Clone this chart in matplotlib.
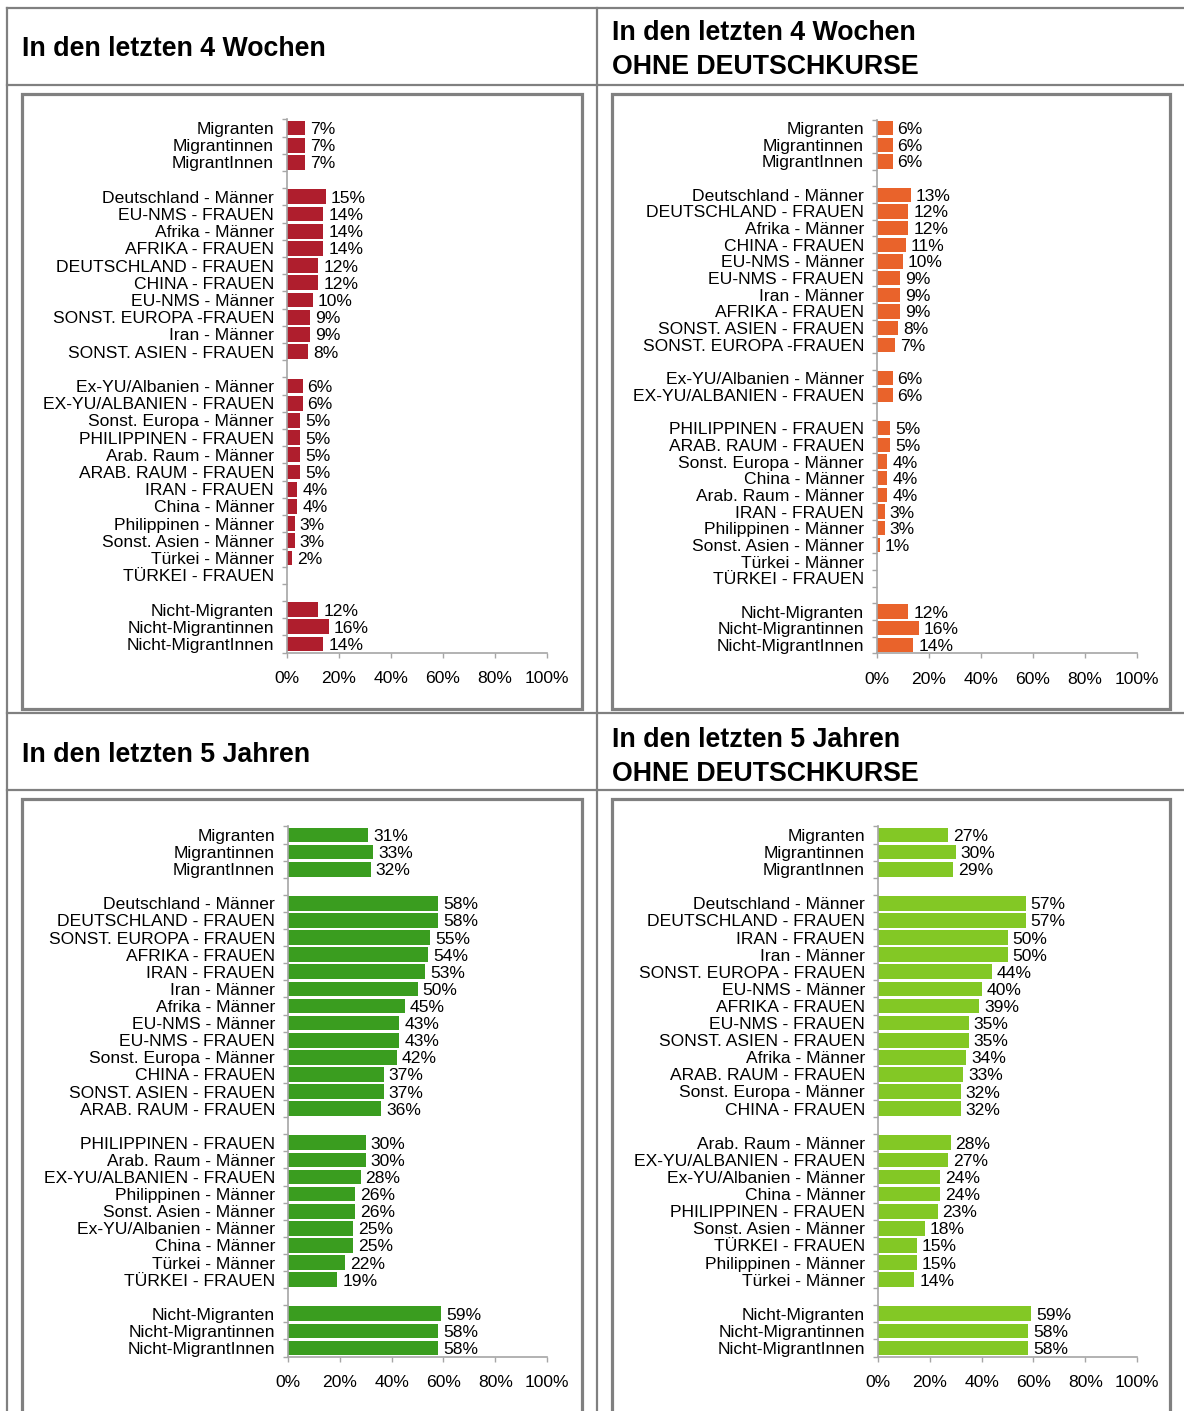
import matplotlib
matplotlib.use("Agg")
import matplotlib.pyplot as plt
from matplotlib.lines import Line2D
from matplotlib.patches import Rectangle
from matplotlib.ticker import FixedLocator, NullFormatter

plt.rcParams['font.family'] = ['Liberation Sans', 'DejaVu Sans']

W, H = 1184, 1411

# ---------------- data ----------------
title_4w = "In den letzten 4 Wochen"
title_4w_ohne = "In den letzten 4 Wochen\nOHNE DEUTSCHKURSE"
title_5j = "In den letzten 5 Jahren"
title_5j_ohne = "In den letzten 5 Jahren\nOHNE DEUTSCHKURSE"

# Panel 1: letzte 4 Wochen
p1_labels = [
    ["Migranten", "Migrantinnen", "MigrantInnen"],
    ["Deutschland - Männer", "EU-NMS - FRAUEN", "Afrika - Männer", "AFRIKA - FRAUEN",
     "DEUTSCHLAND - FRAUEN", "CHINA - FRAUEN", "EU-NMS - Männer", "SONST. EUROPA -FRAUEN",
     "Iran - Männer", "SONST. ASIEN - FRAUEN"],
    ["Ex-YU/Albanien - Männer", "EX-YU/ALBANIEN - FRAUEN", "Sonst. Europa - Männer",
     "PHILIPPINEN - FRAUEN", "Arab. Raum - Männer", "ARAB. RAUM - FRAUEN", "IRAN - FRAUEN",
     "China - Männer", "Philippinen - Männer", "Sonst. Asien - Männer", "Türkei - Männer",
     "TÜRKEI - FRAUEN"],
    ["Nicht-Migranten", "Nicht-Migrantinnen", "Nicht-MigrantInnen"],
]
p1_values = [
    [7, 7, 7],
    [15, 14, 14, 14, 12, 12, 10, 9, 9, 8],
    [6, 6, 5, 5, 5, 5, 4, 4, 3, 3, 2, None],
    [12, 16, 14],
]

# Panel 2: letzte 4 Wochen ohne Deutschkurse
p2_labels = [
    ["Migranten", "Migrantinnen", "MigrantInnen"],
    ["Deutschland - Männer", "DEUTSCHLAND - FRAUEN", "Afrika - Männer", "CHINA - FRAUEN",
     "EU-NMS - Männer", "EU-NMS - FRAUEN", "Iran - Männer", "AFRIKA - FRAUEN",
     "SONST. ASIEN - FRAUEN", "SONST. EUROPA -FRAUEN"],
    ["Ex-YU/Albanien - Männer", "EX-YU/ALBANIEN - FRAUEN"],
    ["PHILIPPINEN - FRAUEN", "ARAB. RAUM - FRAUEN", "Sonst. Europa - Männer", "China - Männer",
     "Arab. Raum - Männer", "IRAN - FRAUEN", "Philippinen - Männer", "Sonst. Asien - Männer",
     "Türkei - Männer", "TÜRKEI - FRAUEN"],
    ["Nicht-Migranten", "Nicht-Migrantinnen", "Nicht-MigrantInnen"],
]
p2_values = [
    [6, 6, 6],
    [13, 12, 12, 11, 10, 9, 9, 9, 8, 7],
    [6, 6],
    [5, 5, 4, 4, 4, 3, 3, 1, None, None],
    [12, 16, 14],
]

# Panel 3: letzte 5 Jahre
p3_labels = [
    ["Migranten", "Migrantinnen", "MigrantInnen"],
    ["Deutschland - Männer", "DEUTSCHLAND - FRAUEN", "SONST. EUROPA - FRAUEN", "AFRIKA - FRAUEN",
     "IRAN - FRAUEN", "Iran - Männer", "Afrika - Männer", "EU-NMS - Männer", "EU-NMS - FRAUEN",
     "Sonst. Europa - Männer", "CHINA - FRAUEN", "SONST. ASIEN - FRAUEN", "ARAB. RAUM - FRAUEN"],
    ["PHILIPPINEN - FRAUEN", "Arab. Raum - Männer", "EX-YU/ALBANIEN - FRAUEN",
     "Philippinen - Männer", "Sonst. Asien - Männer", "Ex-YU/Albanien - Männer",
     "China - Männer", "Türkei - Männer", "TÜRKEI - FRAUEN"],
    ["Nicht-Migranten", "Nicht-Migrantinnen", "Nicht-MigrantInnen"],
]
p3_values = [
    [31, 33, 32],
    [58, 58, 55, 54, 53, 50, 45, 43, 43, 42, 37, 37, 36],
    [30, 30, 28, 26, 26, 25, 25, 22, 19],
    [59, 58, 58],
]

# Panel 4: letzte 5 Jahre ohne Deutschkurse
p4_labels = [
    ["Migranten", "Migrantinnen", "MigrantInnen"],
    ["Deutschland - Männer", "DEUTSCHLAND - FRAUEN", "IRAN - FRAUEN", "Iran - Männer",
     "SONST. EUROPA - FRAUEN", "EU-NMS - Männer", "AFRIKA - FRAUEN", "EU-NMS - FRAUEN",
     "SONST. ASIEN - FRAUEN", "Afrika - Männer", "ARAB. RAUM - FRAUEN",
     "Sonst. Europa - Männer", "CHINA - FRAUEN"],
    ["Arab. Raum - Männer", "EX-YU/ALBANIEN - FRAUEN", "Ex-YU/Albanien - Männer",
     "China - Männer", "PHILIPPINEN - FRAUEN", "Sonst. Asien - Männer", "TÜRKEI - FRAUEN",
     "Philippinen - Männer", "Türkei - Männer"],
    ["Nicht-Migranten", "Nicht-Migrantinnen", "Nicht-MigrantInnen"],
]
p4_values = [
    [27, 30, 29],
    [57, 57, 50, 50, 44, 40, 39, 35, 35, 34, 33, 32, 32],
    [28, 27, 24, 24, 23, 18, 15, 15, 14],
    [59, 58, 58],
]

x_ticks = [0, 20, 40, 60, 80, 100]
x_ticklabels = ["0%", "20%", "40%", "60%", "80%", "100%"]

colors = ["#AF1E2D", "#E9632B", "#3A9D1F", "#83C825"]

# ---------------- figure ----------------
FS = 12.6
GRID = "#808080"
AXC = "#A6A6A6"

fig = plt.figure(figsize=(W / 100, H / 100), dpi=100)


def hline(y, x0, x1, lw=1.6, c=GRID):
    fig.add_artist(Line2D([x0 / W, x1 / W], [1 - y / H, 1 - y / H], color=c, lw=lw,
                          transform=fig.transFigure))


def vline(x, y0, y1, lw=1.6, c=GRID):
    fig.add_artist(Line2D([x / W, x / W], [1 - y0 / H, 1 - y1 / H], color=c, lw=lw,
                          transform=fig.transFigure))


def box(x0, y0, x1, y1):
    fig.add_artist(Rectangle((x0 / W, 1 - y1 / H), (x1 - x0) / W, (y1 - y0) / H,
                             fill=False, edgecolor=GRID, lw=2.3, transform=fig.transFigure))


# table grid
hline(8, 7, W)
hline(85, 7, W)
hline(713, 7, W)
hline(790, 7, W)
vline(7, 8, H + 5)
vline(597, 8, H + 5)

# chart boxes
box(22, 94, 582, 709)
box(612, 94, 1170, 709)
box(22, 799, 582, H + 20)
box(612, 799, 1170, H + 20)

# titles
tkw = dict(fontsize=19.3, fontweight="bold", ha="left", va="center", linespacing=1.4,
           transform=fig.transFigure)
fig.text(22 / W, 1 - 49 / H, title_4w, **tkw)
fig.text(612 / W, 1 - 50.5 / H, title_4w_ohne, **tkw)
fig.text(22 / W, 1 - 755 / H, title_5j, **tkw)
fig.text(612 / W, 1 - 757 / H, title_5j_ohne, **tkw)


def draw_panel(rect, groups, values, color):
    x0, y0, x1, y1 = rect
    ax = fig.add_axes([x0 / W, 1 - y1 / H, (x1 - x0) / W, (y1 - y0) / H])
    pos, labs, vals = [], [], []
    slot = 0
    for gi, (g, v) in enumerate(zip(groups, values)):
        for lab, val in zip(g, v):
            pos.append(slot)
            labs.append(lab)
            vals.append(val)
            slot += 1
        if gi < len(groups) - 1:
            slot += 1
    n = slot
    bp = [p for p, v in zip(pos, vals) if v is not None]
    bv = [v for v in vals if v is not None]
    ax.barh(bp, bv, height=0.86, color=color, edgecolor="none")
    for p, v in zip(bp, bv):
        ax.annotate(f"{v}%", (v, p), xytext=(3.6, 0), textcoords="offset points",
                    va="center_baseline", ha="left", fontsize=FS)
    ax.set_ylim(n - 0.5, -0.5)
    ax.set_xlim(0, 100)
    ax.set_yticks(pos)
    ax.set_yticklabels(labs, fontsize=FS)
    ax.yaxis.set_minor_locator(FixedLocator([k - 0.5 for k in range(n + 1)]))
    ax.yaxis.set_minor_formatter(NullFormatter())
    ax.tick_params(axis="y", which="major", length=0, pad=9.3)
    ax.tick_params(axis="y", which="minor", length=3.5, color=AXC, width=1)
    ax.set_xticks(x_ticks)
    ax.set_xticklabels(x_ticklabels, fontsize=FS)
    ax.tick_params(axis="x", length=3.5, color=AXC, width=1, pad=10)
    for s in ("top", "right"):
        ax.spines[s].set_visible(False)
    for s in ("left", "bottom"):
        ax.spines[s].set_color(AXC)
        ax.spines[s].set_linewidth(1.2)
    ax.set_facecolor("none")
    return ax


draw_panel((287, 119.4, 547, 652.6), p1_labels, p1_values, colors[0])
draw_panel((877, 119.7, 1137, 653.3), p2_labels, p2_values, colors[1])
draw_panel((288, 826.4, 547, 1356.6), p3_labels, p3_values, colors[2])
draw_panel((878, 826.4, 1137, 1356.6), p4_labels, p4_values, colors[3])

fig.savefig("out.png", dpi=100, facecolor="white")
